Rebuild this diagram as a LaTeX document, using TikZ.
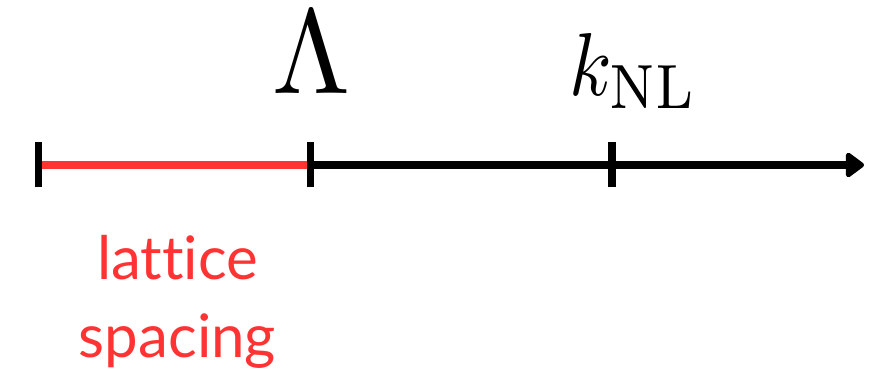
\RequirePackage{fix-cm}
\documentclass[tikz,border=0pt]{standalone}
\usepackage[no-math]{fontspec}
\usepackage{graphicx}
\newfontfamily\latofont[Ligatures=NoCommon]{Lato}
\usetikzlibrary{arrows.meta}
\definecolor{latred}{HTML}{FF3333}
\begin{document}
\begin{tikzpicture}[x=1pt,y=1pt,
  axisline/.style={line width=8pt},
  tickmark/.style={line width=7.5pt},
  lbl/.style={inner sep=0pt,anchor=base}]
\useasboundingbox (0,0) rectangle (884,378);
\coordinate (a) at (38.5,213);
\coordinate (b) at (310.5,213);
\coordinate (c) at (612,213);
\coordinate (e) at (864,213);
\draw[axisline,latred] (a) -- (b);
\draw[axisline,-{Triangle[length=20pt,width=28pt,round]}] (b) -- (e);
\foreach \p in {a,b,c}{
  \draw[tickmark] ([yshift=-22.5pt]\p) -- ([yshift=22.5pt]\p);
}
\node[lbl] (lam) at (312,285) {\resizebox{78pt}{82pt}{$\Lambda$}};
\node[lbl,anchor=base west] (knl) at (569,283) {\resizebox{128pt}{62pt}{$k_{\mathrm{NL}}$}};
\node[lbl,align=center,text=latred,font=\latofont\fontsize{60}{78}\selectfont] (ls) at (177.5,21) {lattice\\spacing};
\end{tikzpicture}
\end{document}
